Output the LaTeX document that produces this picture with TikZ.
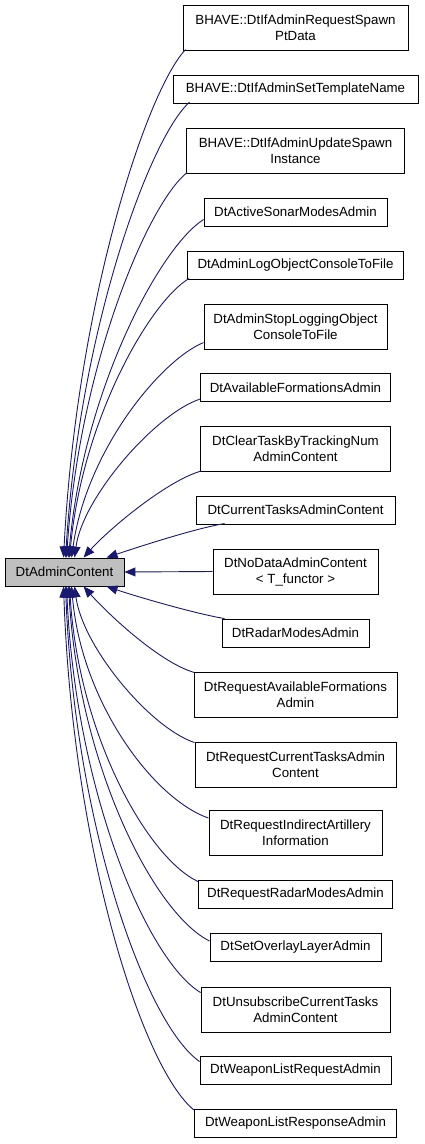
\documentclass[tikz,border=0pt]{standalone}
\usepackage{fontspec}
\setmainfont{Liberation Sans}
\usetikzlibrary{arrows.meta,calc}
\definecolor{edgeblue}{RGB}{25,25,112}
\definecolor{basegray}{RGB}{191,191,191}
\begin{document}
\begin{tikzpicture}[x=1pt,y=-1pt,
  cls/.style={draw=black,line width=0.9pt,fill=white,inner sep=0pt,align=center,
    font=\fontsize{13.3}{16}\selectfont},
  one/.style={cls,minimum height=28pt},
  two/.style={cls,minimum height=45pt},
  inh/.style={draw=edgeblue,line width=0.9pt,-{Triangle[length=11pt,width=9pt,fill=edgeblue]}}]
\useasboundingbox (0,0) rectangle (424,1144);
\node[one,fill=basegray,minimum width=119pt] (main) at (64.5,572) {DtAdminContent};
\node[two,minimum width=225pt] (b1) at (295.5,27.5) {BHAVE::DtIfAdminRequestSpawn\\PtData};
\node[one,minimum width=245pt] (b2) at (295.5,89.5) {BHAVE::DtIfAdminSetTemplateName};
\node[two,minimum width=218pt] (b3) at (295.5,150.5) {BHAVE::DtIfAdminUpdateSpawn\\Instance};
\node[one,minimum width=183pt] (b4) at (295.5,212) {DtActiveSonarModesAdmin};
\node[one,minimum width=216pt] (b5) at (295.5,265) {DtAdminLogObjectConsoleToFile};
\node[two,minimum width=183pt] (b6) at (295.5,326.5) {DtAdminStopLoggingObject\\ConsoleToFile};
\node[one,minimum width=190pt] (b7) at (295.5,387.5) {DtAvailableFormationsAdmin};
\node[two,minimum width=190pt] (b8) at (295.5,449) {DtClearTaskByTrackingNum\\AdminContent};
\node[one,minimum width=199pt] (b9) at (295.5,510) {DtCurrentTasksAdminContent};
\node[two,minimum width=165pt] (b10) at (295.5,571.5) {DtNoDataAdminContent\\< T\_functor >};
\node[one,minimum width=147pt] (b11) at (295.5,633) {DtRadarModesAdmin};
\node[two,minimum width=203pt] (b12) at (295.5,694.5) {DtRequestAvailableFormations\\Admin};
\node[two,minimum width=201pt] (b13) at (295.5,764.5) {DtRequestCurrentTasksAdmin\\Content};
\node[two,minimum width=173pt] (b14) at (295.5,833) {DtRequestIndirectArtillery\\Information};
\node[one,minimum width=194pt] (b15) at (295.5,894) {DtRequestRadarModesAdmin};
\node[one,minimum width=171pt] (b16) at (295.5,947.5) {DtSetOverlayLayerAdmin};
\node[two,minimum width=189pt] (b17) at (295.5,1009.5) {DtUnsubscribeCurrentTasks\\AdminContent};
\node[one,minimum width=191pt] (b18) at (295.5,1070) {DtWeaponListRequestAdmin};
\node[one,minimum width=202pt] (b19) at (295.5,1123.5) {DtWeaponListResponseAdmin};
% upper edges
\draw[inh] ($(b1.north west)+(3,45)$) .. controls +(-39,41) and +(13,-254) .. ($(main.north west)+(59,0)$);
\draw[inh] ($(b2.north west)+(17,27)$) .. controls +(-40,36) and +(14,-228) .. ($(main.north west)+(61,0)$);
\draw[inh] ($(b3.north west)+(1,45)$) .. controls +(-39,31) and +(13,-193) .. ($(main.north west)+(62,0)$);
\draw[inh] ($(b4.north west)+(0,22)$) .. controls +(-43,27) and +(15,-169) .. ($(main.north west)+(64,0)$);
\draw[inh] ($(b5.north west)+(2,28)$) .. controls +(-38,22) and +(13,-140) .. ($(main.north west)+(65,0)$);
\draw[inh] ($(b6.north west)+(0,39)$) .. controls +(-42,17) and +(15,-108) .. ($(main.north west)+(67,0)$);
\draw[inh] ($(b7.north west)+(0,26)$) .. controls +(-45,15) and +(8,-60) .. ($(main.north west)+(70,0)$);
\draw[inh] ($(b8.north west)+(1,45)$) .. controls +(-35,10) and +(25,-28) .. ($(main.north west)+(79,0)$);
\draw[inh] ($(b9.north west)+(29,28)$) .. controls +(-30,5) and +(30,-10) .. ($(main.north west)+(102,0)$);
% middle
\draw[inh] (b10.west) -- (main.east);
% lower edges
\draw[inh] ($(b11.north west)+(3,0)$) .. controls +(-30,-5) and +(30,10) .. ($(main.south west)+(102,0)$);
\draw[inh] ($(b12.north west)+(1,1)$) .. controls +(-35,-10) and +(25,28) .. ($(main.south west)+(79,0)$);
\draw[inh] ($(b13.north west)+(0,1)$) .. controls +(-45,-15) and +(8,60) .. ($(main.south west)+(70,0)$);
\draw[inh] ($(b14.north west)+(0,8)$) .. controls +(-55,-19) and +(10,116) .. ($(main.south west)+(67,0)$);
\draw[inh] ($(b15.north west)+(0,2)$) .. controls +(-51,-24) and +(9,148) .. ($(main.south west)+(65,0)$);
\draw[inh] ($(b16.north west)+(0,8)$) .. controls +(-56,-28) and +(10,178) .. ($(main.south west)+(64,0)$);
\draw[inh] ($(b17.north west)+(0,6)$) .. controls +(-54,-33) and +(9,204) .. ($(main.south west)+(62,0)$);
\draw[inh] ($(b18.north west)+(0,6)$) .. controls +(-54,-38) and +(9,238) .. ($(main.south west)+(61,0)$);
\draw[inh] ($(b19.north west)+(0,1)$) .. controls +(-52,-42) and +(9,262) .. ($(main.south west)+(59,0)$);
\end{tikzpicture}
\end{document}
